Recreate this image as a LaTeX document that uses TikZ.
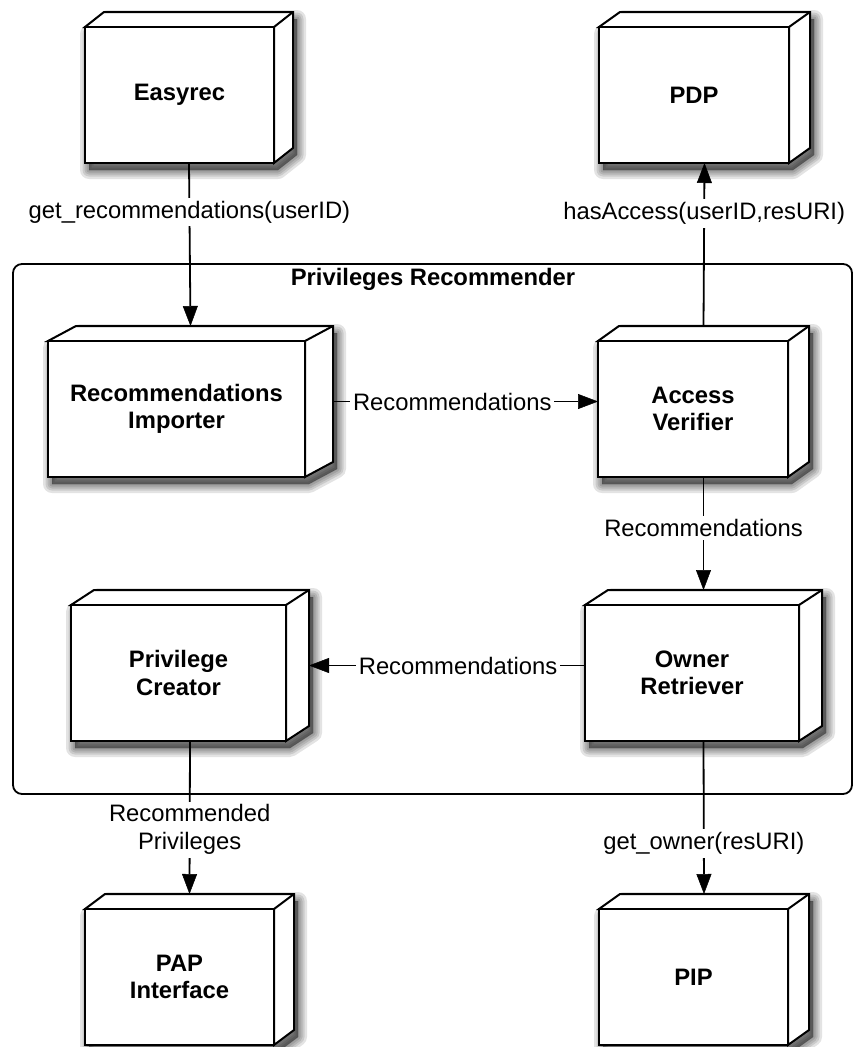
\documentclass[tikz,border=0pt]{standalone}
\usepackage{fontspec}
\setmainfont{Liberation Sans}
\usetikzlibrary{arrows.meta}

\tikzset{
  cubeface/.style={draw, line width=2pt, fill=white, inner sep=0pt, outer sep=0pt,
    align=center, font=\fontsize{23.8}{27.5}\selectfont\bfseries},
  cubeedge/.style={draw, line width=2pt, fill=white, line join=miter},
  shadowlayer/.style={fill=black, draw=black, fill opacity=0.11, draw opacity=0.11,
    line join=round, line width=#1},
  conn/.style={draw=black, line width=1.8pt,
    -{Triangle[length=20pt,width=15pt,fill=black,line width=0.5pt]}},
  lbl/.style={fill=white, inner sep=3pt, align=center,
    font=\fontsize{23.8}{28}\selectfont},
  container/.style={draw, line width=1.8pt, rounded corners=9pt, inner sep=0pt},
  ctitle/.style={font=\fontsize{23.8}{28}\selectfont\bfseries},
}

% name, left, top, right, bottom (front face), depth in x, text
\newcommand\depthbox[7]{%
  % soft shadow: stacked translucent outlines of the silhouette
  \begin{scope}[shift={(4,7)}]
    \foreach \w in {18,13,9,5,1}{%
      \path[shadowlayer=\w pt] (#2,#5) -- (#2,#3) -- ({#2+#6},{#3-15}) -- ({#4+#6},{#3-15})
        -- ({#4+#6},{#5-15}) -- (#4,#5) -- cycle;
    }
  \end{scope}
  \draw[cubeedge] (#2,#3) -- ({#2+#6},{#3-15}) -- ({#4+#6},{#3-15})
    -- ({#4+#6},{#5-15}) -- (#4,#5) -- (#4,#3) -- cycle;
  \draw[cubeedge] (#4,#3) -- ({#4+#6},{#3-15});
  \node[cubeface, minimum width={(#4-#2)*1pt}, minimum height={(#5-#3)*1pt}]
    (#1) at ({(#2+#4)/2},{(#3+#5)/2}) {#7};
  \coordinate (#1-n) at ({(#2+#4+#6)/2},{#3-15});
  \coordinate (#1-s) at ({(#2+#4+#6)/2},#5);
  \coordinate (#1-e) at ({#4+#6},{(#3-15+#5)/2});
  \coordinate (#1-w) at (#2,{(#3-15+#5)/2});
}

\begin{document}
\begin{tikzpicture}[x=1pt,y=-1pt]
  \useasboundingbox (0,0) rectangle (854,1047);

  % enclosing component
  \node[container, minimum width=839pt, minimum height=530pt] (rec) at (432.5,529) {};
  \node[ctitle] (rectitle) at (433,279) {Privileges Recommender};

  % nodes
  \depthbox{easy}{85}{27}{274}{163}{19}{Easyrec}
  \depthbox{pdp}{599}{27}{789}{163}{21}{PDP}
  \depthbox{imp}{48}{341}{305}{477}{28}{Recommendations\\Importer}
  \depthbox{ver}{598}{341}{788}{477}{21}{Access\\Verifier}
  \depthbox{cre}{71}{605}{286}{741}{23}{Privilege\\Creator}
  \depthbox{own}{585}{605}{799}{741}{23}{Owner\\Retriever}
  \depthbox{pap}{85}{909}{274}{1045}{20}{PAP\\Interface}
  \depthbox{pip}{599}{909}{788}{1045}{21}{PIP}

  % connectors
  \draw[conn] (easy-s) -- node[lbl, pos=0.30] {get\_recommendations(userID)} (imp-n);
  \draw[conn] (ver-n) -- node[lbl, pos=0.69] {hasAccess(userID,resURI)} (pdp-s);
  \draw[conn] (imp-e) -- node[lbl, pos=0.45] {Recommendations} (ver-w);
  \draw[conn] (ver-s) -- node[lbl, pos=0.45] {Recommendations} (own-n);
  \draw[conn] (own-w) -- node[lbl, pos=0.46] {Recommendations} (cre-e);
  \draw[conn] (cre-s) -- node[lbl, pos=0.58] {Recommended\\Privileges} (pap-n);
  \draw[conn] (own-s) -- node[lbl, pos=0.67] {get\_owner(resURI)} (pip-n);
\end{tikzpicture}
\end{document}
